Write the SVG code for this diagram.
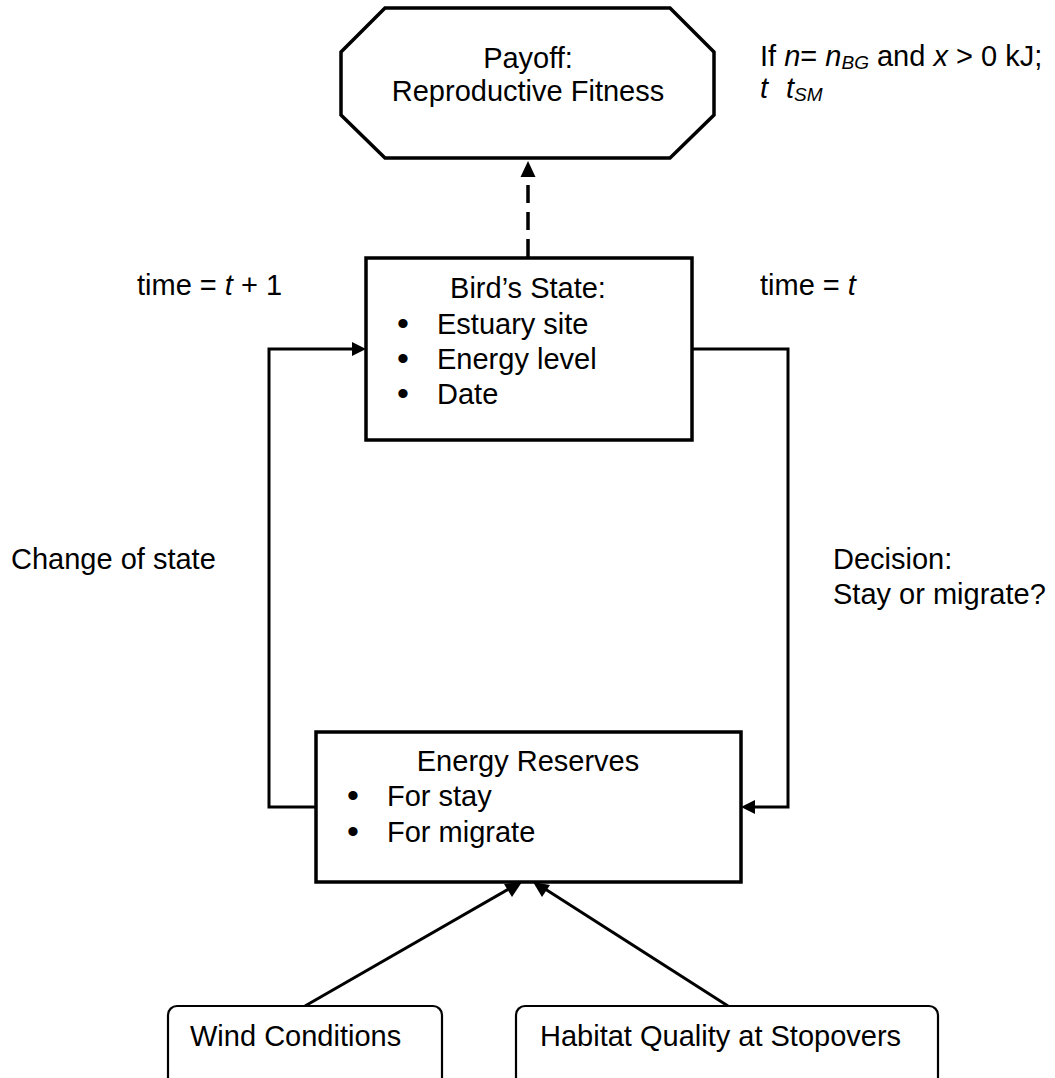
<svg xmlns="http://www.w3.org/2000/svg" width="1055" height="1078" viewBox="0 0 1055 1078">
<style>
text{font-family:"Liberation Sans",Arial,sans-serif;font-size:29px;fill:#000}
.bul{font-size:34px}
.box{fill:#fff;stroke:#000;stroke-width:3.5}
.rbox{fill:#fff;stroke:#000;stroke-width:2.2}
.line{fill:none;stroke:#000;stroke-width:3}
.dash{fill:none;stroke:#000;stroke-width:3.5;stroke-dasharray:18 9}
.head{fill:#000;stroke:none}
.it{font-style:italic}
.sub{font-style:italic;font-size:19px}
.c{text-anchor:middle}
</style>
<rect width="1055" height="1078" fill="#fff"/>
<g id="connectors">
  <path class="dash" d="M528,257 L528,176"/>
  <polygon class="head" points="528,161 520.5,177 535.5,177"/>
  <path class="line" d="M316,807 L269,807 L269,349 L353,349"/>
  <polygon class="head" points="366,349 352,342 352,356"/>
  <path class="line" d="M692,349 L788,349 L788,807 L754,807"/>
  <polygon class="head" points="741,807 755,800 755,814"/>
  <path class="line" d="M305,1006 L512,887"/>
  <polygon class="head" points="522,882 504,884 512,897"/>
  <path class="line" d="M728,1006 L542,887"/>
  <polygon class="head" points="533,882 542,897 550,885"/>
</g>
<g id="payoff">
  <polygon class="box" points="385,8 670,8 714,52 714,115 670,158 385,158 341,115 341,52"/>
  <text class="c" x="528" y="68">Payoff:</text>
  <text class="c" x="528" y="101">Reproductive Fitness</text>
</g>
<g id="condition">
  <text x="760" y="66">If <tspan class="it">n</tspan>= <tspan class="it">n</tspan><tspan class="sub" dy="3">BG</tspan><tspan dy="-3"> and </tspan><tspan class="it">x</tspan> &gt; 0 kJ;</text>
  <text x="760" y="98"><tspan class="it">t</tspan><tspan class="it" x="786">t</tspan><tspan class="sub" dy="3">SM</tspan></text>
</g>
<g id="time-labels">
  <text x="137" y="295">time = <tspan class="it">t</tspan> + 1</text>
  <text x="760" y="295">time = <tspan class="it">t</tspan></text>
  <text x="11" y="569">Change of state</text>
  <text x="833" y="569">Decision:</text>
  <text x="833" y="604">Stay or migrate?</text>
</g>
<g id="birds-state">
  <rect class="box" x="366" y="258" width="326" height="182"/>
  <text class="c" x="528" y="298">Bird’s State:</text>
  <text y="334"><tspan class="bul" x="397" dy="1">•</tspan><tspan x="437" dy="-1">Estuary site</tspan></text>
  <text y="369"><tspan class="bul" x="397" dy="1">•</tspan><tspan x="437" dy="-1">Energy level</tspan></text>
  <text y="404"><tspan class="bul" x="397" dy="1">•</tspan><tspan x="437" dy="-1">Date</tspan></text>
</g>
<g id="energy-reserves">
  <rect class="box" x="316" y="732" width="425" height="150"/>
  <text class="c" x="528" y="771">Energy Reserves</text>
  <text y="806"><tspan class="bul" x="347" dy="1">•</tspan><tspan x="387" dy="-1">For stay</tspan></text>
  <text y="842"><tspan class="bul" x="347" dy="1">•</tspan><tspan x="387" dy="-1">For migrate</tspan></text>
</g>
<g id="wind">
  <rect class="rbox" x="168" y="1006" width="274" height="100" rx="9"/>
  <text x="190" y="1046">Wind Conditions</text>
</g>
<g id="habitat">
  <rect class="rbox" x="516" y="1006" width="422" height="100" rx="9"/>
  <text x="540" y="1046">Habitat Quality at Stopovers</text>
</g>
</svg>
